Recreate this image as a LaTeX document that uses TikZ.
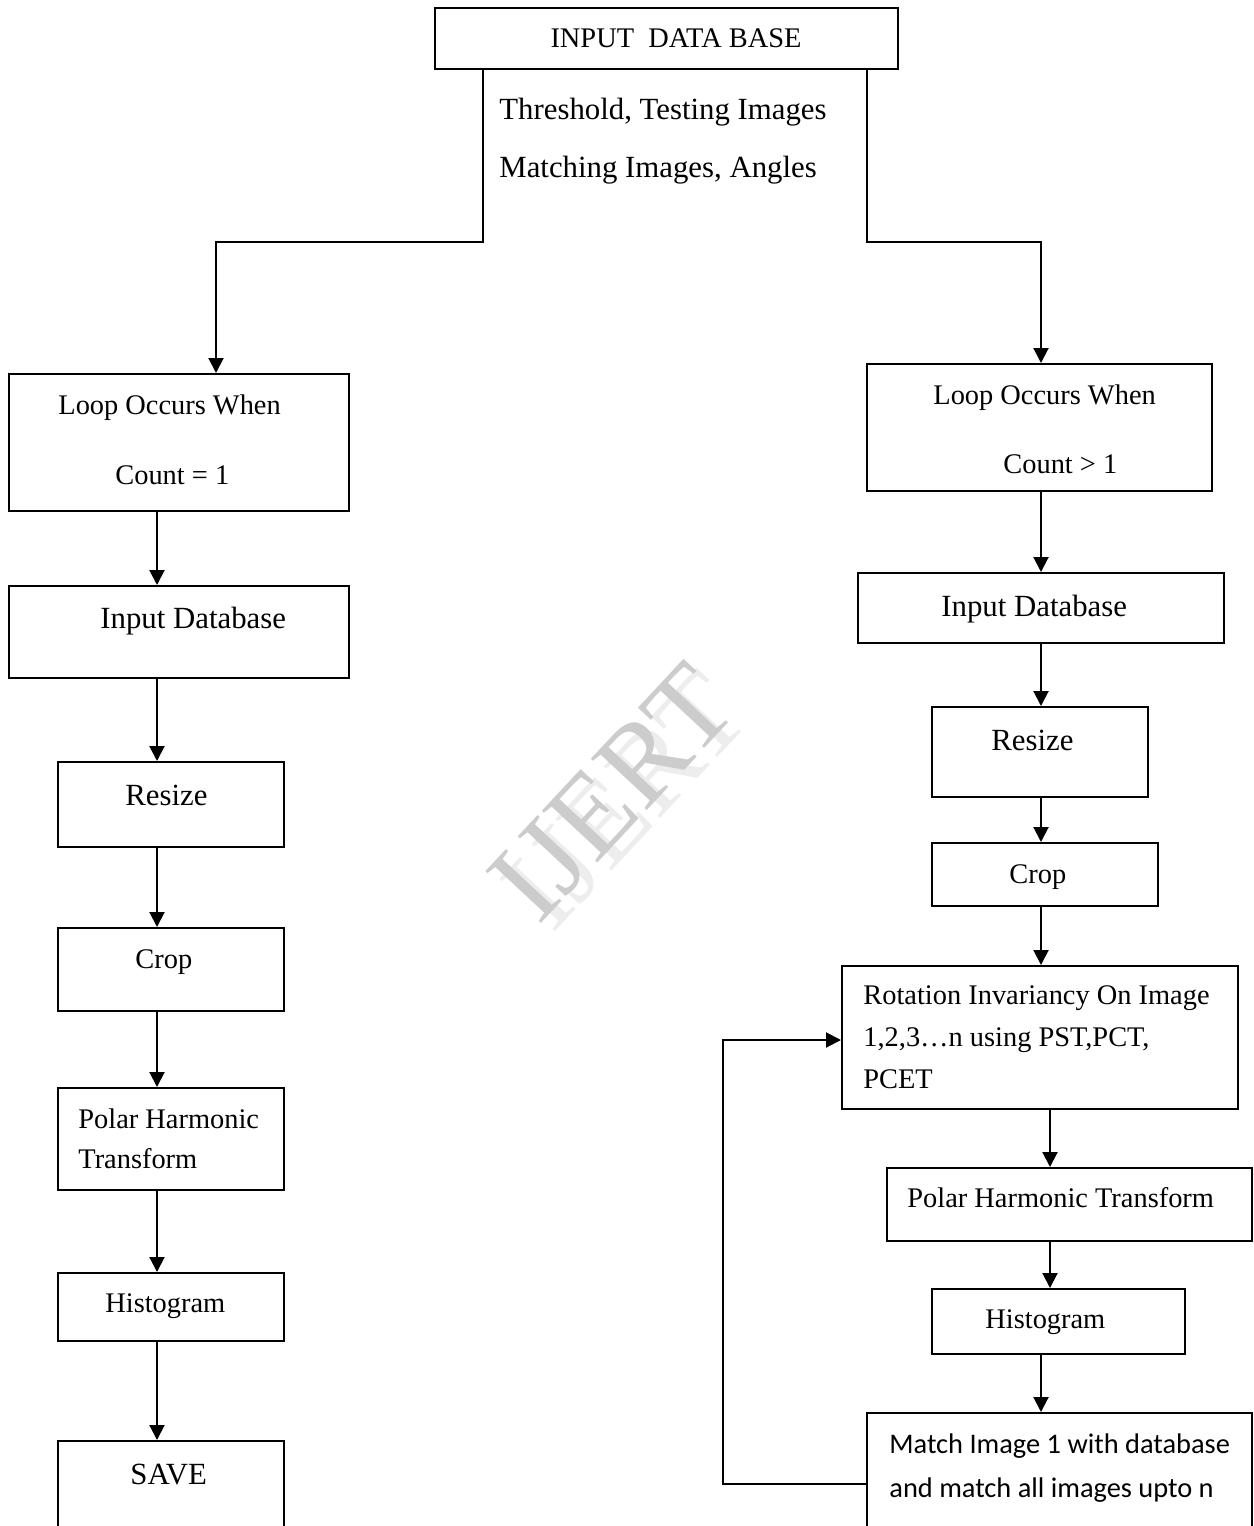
\documentclass[tikz,border=0pt]{standalone}
\usepackage{fontspec}
\setmainfont{Liberation Serif}
\newfontfamily\calib{Carlito}
\usetikzlibrary{arrows.meta,fit}
\newcommand\fa{\fontsize{14.2}{17}\selectfont}
\newcommand\fb{\fontsize{15.4}{18}\selectfont}
\newcommand\fwm{\fontsize{58}{58}\selectfont}
\begin{document}
\begin{tikzpicture}[x=0.5pt,y=-0.5pt,
  box/.style={draw, line width=1pt, inner sep=0pt},
  txt/.style={anchor=base west, inner sep=0pt},
  ctxt/.style={anchor=base, inner sep=0pt},
  arr/.style={line width=1pt, -{Triangle[length=7.5pt,width=7.5pt]}},
  wmark/.style={rotate=47, inner sep=0pt, font=\fwm}]
\useasboundingbox (0,0) rectangle (1253,1526);
\clip (0,0) rectangle (1253,1526);
\fill[white] (0,0) rectangle (1253,1526);

% watermark (faint shadow layer plus main layer, one text)
\node[wmark] (wm) at (618,798) {\makebox[0pt][l]{\hspace{1.5pt}\raisebox{-8pt}{\color{black!7}IJERT}}{\color{black!20}IJERT}};

% top box
\node[box, fit={(435,8)(898,69)}] (top) {};
\node[ctxt] (ttop) at (676,47) {\fa INPUT\ \ DATA BASE};
\node[txt] (thr) at (499,119) {\fb Threshold, Testing Images};
\node[txt] (mat) at (499,177) {\fb Matching Images, Angles};

% left column
\node[box, fit={(9,374)(349,511)}] (lloop) {};
\node[txt] (lloopa) at (58,414) {\fa Loop Occurs When};
\node[txt] (lloopb) at (115,484) {\fa Count = 1};
\node[box, fit={(9,586)(349,678)}] (linput) {};
\node[txt] (linputt) at (100,628) {\fb Input Database};
\node[box, fit={(58,762)(284,847)}] (lresize) {};
\node[txt] (lresizet) at (125,805) {\fb Resize};
\node[box, fit={(58,928)(284,1011)}] (lcrop) {};
\node[txt] (lcropt) at (135,968) {\fa Crop};
\node[box, fit={(58,1088)(284,1190)}] (lpolar) {};
\node[txt] (lpolara) at (78,1128) {\fa Polar Harmonic};
\node[txt] (lpolarb) at (78,1168) {\fa Transform};
\node[box, fit={(58,1273)(284,1341)}] (lhist) {};
\node[txt] (lhistt) at (105,1312) {\fa Histogram};
\node[box, fit={(58,1441)(284,1570)}] (lsave) {};
\node[txt] (lsavet) at (130,1484) {\fb SAVE};

% right column
\node[box, fit={(867,364)(1212,491)}] (rloop) {};
\node[txt] (rloopa) at (933,404) {\fa Loop Occurs When};
\node[txt] (rloopb) at (1003,473) {\fa Count > 1};
\node[box, fit={(858,573)(1224,643)}] (rinput) {};
\node[txt] (rinputt) at (941,616) {\fb Input Database};
\node[box, fit={(932,707)(1148,797)}] (rresize) {};
\node[txt] (rresizet) at (991,750) {\fb Resize};
\node[box, fit={(932,843)(1158,906)}] (rcrop) {};
\node[txt] (rcropt) at (1009,883) {\fa Crop};
\node[box, fit={(842,966)(1238,1109)}] (rot) {};
\node[txt] (rota) at (863,1004) {\fa Rotation Invariancy On Image};
\node[txt] (rotb) at (863,1046) {\fa 1,2,3\dots n using PST,PCT,};
\node[txt] (rotc) at (863,1088) {\fa PCET};
\node[box, fit={(887,1168)(1252,1241)}] (rpolar) {};
\node[txt] (rpolart) at (907,1207) {\fa Polar Harmonic Transform};
\node[box, fit={(932,1289)(1185,1354)}] (rhist) {};
\node[txt] (rhistt) at (985,1328) {\fa Histogram};
\node[box, fit={(867,1413)(1252,1570)}] (match) {};
\node[txt] (matcha) at (889,1453) {\calib\fa Match Image 1 with database};
\node[txt] (matchb) at (889,1497) {\calib\fa and match all images upto n};

% helper coordinates
\coordinate (cL) at (483,242);
\coordinate (aL) at (216,242);
\coordinate (cR) at (867,242);
\coordinate (aR) at (1041,242);
\coordinate (xl) at (157,0);
\coordinate (xr) at (1041,0);
\coordinate (xr2) at (1050,0);
\coordinate (xb) at (723,0);
\coordinate (yb) at (0,1484);
\coordinate (yt) at (0,1040);

% connectors from top
\draw[arr] (top.south -| cL) -- (cL) -- (aL) -- (lloop.north -| aL);
\draw[arr] (top.south -| cR) -- (cR) -- (aR) -- (rloop.north -| aR);

% left chain
\draw[arr] (lloop.south -| xl) -- (linput.north -| xl);
\draw[arr] (linput.south -| xl) -- (lresize.north -| xl);
\draw[arr] (lresize.south -| xl) -- (lcrop.north -| xl);
\draw[arr] (lcrop.south -| xl) -- (lpolar.north -| xl);
\draw[arr] (lpolar.south -| xl) -- (lhist.north -| xl);
\draw[arr] (lhist.south -| xl) -- (lsave.north -| xl);

% right chain
\draw[arr] (rloop.south -| xr) -- (rinput.north -| xr);
\draw[arr] (rinput.south -| xr) -- (rresize.north -| xr);
\draw[arr] (rresize.south -| xr) -- (rcrop.north -| xr);
\draw[arr] (rcrop.south -| xr) -- (rot.north -| xr);
\draw[arr] (rot.south -| xr2) -- (rpolar.north -| xr2);
\draw[arr] (rpolar.south -| xr2) -- (rhist.north -| xr2);
\draw[arr] (rhist.south -| xr) -- (match.north -| xr);

% loop back
\draw[arr] (match.west |- yb) -- (xb |- yb) -- (xb |- yt) -- (rot.west |- yt);
\end{tikzpicture}
\end{document}
